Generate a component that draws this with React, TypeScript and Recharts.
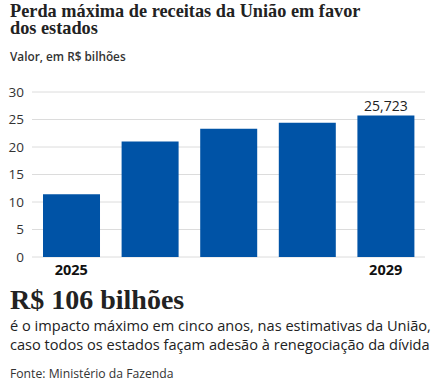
import { BarChart, Bar, XAxis, YAxis, CartesianGrid, LabelList } from 'recharts';

const years = ['2025', '2026', '2027', '2028', '2029'];
const losses = [11.4, 21.0, 23.3, 24.4, 25.723];
const valueLabels = ['', '', '', '', '25,723'];
const yTicks = [0, 5, 10, 15, 20, 25, 30];
const shownYears = ['2025', '2029'];

const data = years.map((year, i) => ({ year, value: losses[i], label: valueLabels[i] }));

const sans = '"Open Sans", sans-serif';
const serif = '"Liberation Serif", serif';

export default function App() {
  return (
    <div style={{ position: 'absolute', top: 0, left: 0, width: 436, height: 387, background: '#fff', color: '#222' }}>
      <div style={{ position: 'absolute', left: 10, top: 3, width: 365, fontFamily: serif, fontWeight: 700, fontSize: 18.3, lineHeight: '17px' }}>
        Perda máxima de receitas da União em favor dos estados
      </div>
      <div style={{ position: 'absolute', left: 10, top: 48, fontFamily: sans, fontSize: 11.8, fontWeight: 600, color: '#333' }}>
        Valor, em R$ bilhões
      </div>

      <div style={{ position: 'absolute', left: 0, top: 80 }}>
        <BarChart width={436} height={200} data={data} margin={{ top: 12, right: 11, bottom: 3, left: 0 }} barCategoryGap="14%">
          <CartesianGrid vertical={false} stroke="#dcdcdc" />
          <XAxis
            dataKey="year"
            axisLine={false}
            tickLine={false}
            height={20}
            interval={0}
            tick={{ fill: '#111', fontSize: 14.5, fontWeight: 700, fontFamily: sans }}
            tickFormatter={(v) => (shownYears.includes(v) ? v : '')}
          />
          <YAxis
            domain={[0, 30]}
            ticks={yTicks}
            width={32}
            axisLine={false}
            tickLine={false}
            tick={{ fill: '#333', fontSize: 13.5, fontFamily: sans }}
          />
          <Bar dataKey="value" fill="#0053a6" isAnimationActive={false}>
            <LabelList dataKey="label" position="top" fill="#222" fontSize={14} fontFamily={sans} />
          </Bar>
        </BarChart>
      </div>

      <div style={{ position: 'absolute', left: 10, top: 285, fontFamily: serif, fontWeight: 700, fontSize: 28, lineHeight: '30px' }}>
        R$ 106 bilhões
      </div>
      <div style={{ position: 'absolute', left: 10, top: 316, width: 430, fontFamily: sans, fontSize: 14.6, lineHeight: '19px', color: '#222' }}>
        é o impacto máximo em cinco anos, nas estimativas da União,
        <br />
        caso todos os estados façam adesão à renegociação da dívida
      </div>
      <div style={{ position: 'absolute', left: 10, top: 365, fontFamily: sans, fontSize: 12.2, color: '#333' }}>
        Fonte: Ministério da Fazenda
      </div>
    </div>
  );
}
